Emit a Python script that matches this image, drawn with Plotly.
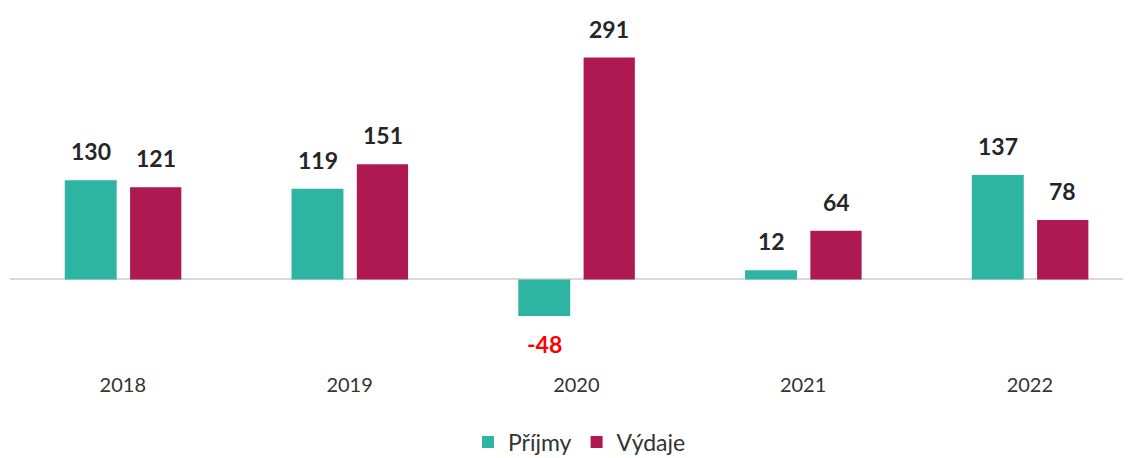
import plotly.graph_objects as go

years = ["2018", "2019", "2020", "2021", "2022"]
prijmy = [130, 119, -48, 12, 137]
vydaje = [121, 151, 291, 64, 78]

GREEN = "#2DB4A3"
CRIMSON = "#AE1952"
FONT = "Lato, Open Sans, sans-serif"

fig = go.Figure()
fig.add_trace(go.Bar(x=years, y=prijmy, name="Příjmy", marker_color=GREEN,
                     width=0.229, offset=-0.256, marker_line_width=0))
fig.add_trace(go.Bar(x=years, y=vydaje, name="Výdaje", marker_color=CRIMSON,
                     width=0.226, offset=0.032, marker_line_width=0))

for series, shift in ((prijmy, -32), (vydaje, 33)):
    for i, v in enumerate(series):
        neg = v < 0
        fig.add_annotation(x=i, y=v, xref="x", yref="y", text=f"<b>{v}</b>",
                           showarrow=False,
                           xshift=shift, yshift=-12 if neg else 13,
                           yanchor="top" if neg else "bottom",
                           font=dict(family=FONT, size=23,
                                     color="#FF0000" if neg else "#262626"))

fig.update_layout(
    width=1123, height=456,
    margin=dict(l=2, r=0, t=0, b=83),
    plot_bgcolor="white", paper_bgcolor="white",
    barmode="group",
    showlegend=True,
    legend=dict(orientation="h", x=0.508, xanchor="center", y=-0.196, yanchor="middle",
                font=dict(family=FONT, size=23, color="#333333"),
                itemwidth=30, traceorder="normal"),
    font=dict(family=FONT),
)
fig.update_xaxes(type="category", range=[-0.4975, 4.446], showgrid=False, showline=False,
                 ticks="", tickfont=dict(family=FONT, size=20, color="#333333"))
fig.update_yaxes(range=[-120.0, 356.0], showgrid=False, showticklabels=False,
                 zeroline=True, zerolinecolor="#D9D9D9", zerolinewidth=2, showline=False)

fig.write_html("out.html")
